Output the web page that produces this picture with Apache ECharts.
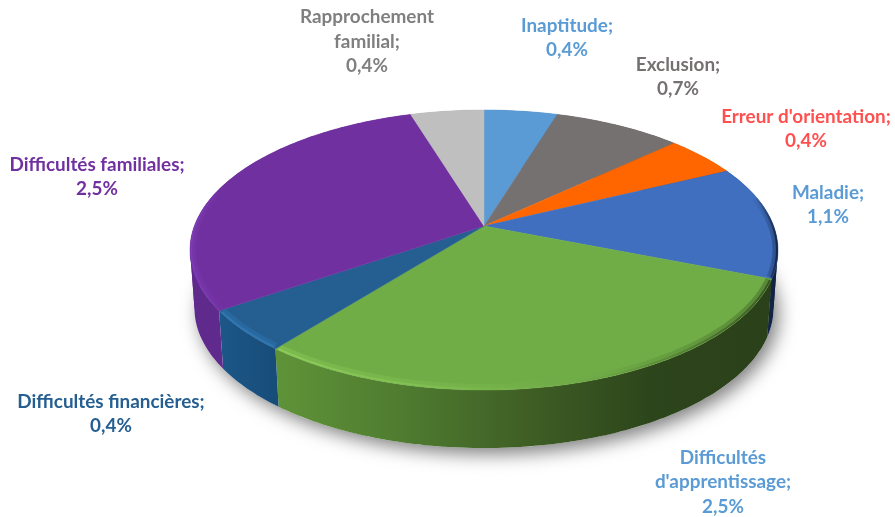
<!DOCTYPE html>
<html><head><meta charset="utf-8">
<style>html,body{margin:0;padding:0;background:#fff}#c{width:895px;height:517px}</style>
<script src="https://cdn.jsdelivr.net/npm/echarts@6/dist/echarts.min.js"></script>
</head><body><div id="c"></div>
<script>
const categories = ['Inaptitude','Exclusion',"Erreur d'orientation",'Maladie',"Difficultés d'apprentissage",'Difficultés financières','Difficultés familiales','Rapprochement familial'];
const values = [0.4,0.7,0.4,1.1,2.5,0.4,2.5,0.4];

const topColors = ['#5b9bd5','#767171','#ff6600','#3f6fbe','#70ad47','#255e91','#7030a0','#bfbfbf'];
const sideStops = [
  ['#3f74a6','#3f74a6'],['#555','#444'],['#b34700','#a04000'],['#27467f','#101f3d'],
  ['#5f9338','#4f7c30','#3f5f25','#2d451b','#2a401a'],['#1c5788','#174c78'],['#5f2a8c','#662f97'],['#999','#999']
];
const rimStops = [null,null,null,['#3a62aa','#13233f'],['#8fce5a','#7fbe50','#6ca544','#33501f'],['#2f78b5','#2f78b5'],['#7e3db4','#7533a8'],null];
const rimRange = [null,null,null,[78,111],[112,218],[219,235],[236,285],null];
const labels = [
  {x:567,y:38,c:'#5b9bd5',wrap:false},{x:678,y:77,c:'#767171',wrap:false},
  {x:806,y:129,c:'#ff5050',wrap:false},{x:828,y:205,c:'#5b9bd5',wrap:false},
  {x:723,y:482,c:'#5b9bd5',wrap:true},{x:111,y:414,c:'#255e91',wrap:false},
  {x:97,y:177,c:'#7030a0',wrap:false},{x:367,y:41.5,c:'#7f7f7f',wrap:true}
];
const geo = {cx:484,cy:226,R:289.6,S:135.9,k:0.1716,depth:58,xBottom:0.985};
const total = values.reduce((a,b)=>a+b,0);
let run = 0;
const rows = values.map((v,i)=>{const r=[i,v,run];run+=v;return r;});
const deg = v => v/total*360;
// Angles at which the projected rim reaches its horizontal extremes.
const extremeOffset = Math.acos(-geo.k)*180/Math.PI;
const extremes = [extremeOffset, 360-extremeOffset];

function proj(a,bottom,inset){
  const t=a*Math.PI/180, x=Math.sin(t), y=-Math.cos(t), w=1-geo.k*y;
  const s=bottom?geo.xBottom:1, ins=inset||0;
  return [geo.cx+(geo.R-ins)*s*x/w, geo.cy+(geo.S-ins)*y/w+(bottom?geo.depth:0)];
}
function arc(a0,a1,bottom,inset){
  const pts=[], n=Math.max(2,Math.ceil(Math.abs(a1-a0)));
  for(let i=0;i<=n;i++) pts.push(proj(a0+(a1-a0)*i/n,bottom,inset));
  return pts;
}
function grad(stops,x0,x1){
  return {type:'linear',x:x0,y:0,x2:x1,y2:0,global:true,
    colorStops:stops.map((c,i)=>({offset:i/(stops.length-1),color:c}))};
}
function extentX(pts){const xs=pts.map(p=>p[0]);return [Math.min(...xs),Math.max(...xs)];}

const option = {
  animation:false,
  backgroundColor:'#fff',
  series:[
    {type:'custom',coordinateSystem:'none',silent:true,z:1,data:[[total]],
     renderItem(){
       return {type:'polygon',shape:{points:arc(0,360,true)},
         style:{fill:'#fff',shadowColor:'rgba(0,0,0,0.5)',shadowBlur:18,shadowOffsetX:5,shadowOffsetY:6}};
     }},
    {type:'custom',coordinateSystem:'none',silent:true,z:2,data:rows,
     renderItem(params,api){
       const i=api.value(0), a0=deg(api.value(2)), a1=a0+deg(api.value(1));
       const up=arc(a0,a1,false), low=arc(a0,a1,true);
       const e=extentX(up.concat(low));
       const g=i===4?grad(sideStops[i],276,775):grad(sideStops[i],e[0],e[1]);
       const kids=[{type:'polygon',shape:{points:up.concat(low.slice().reverse())},style:{fill:g}}];
       extremes.filter(t=>t>a0&&t<a1).forEach(t=>{
         [[Math.max(a0,t-12),t],[t,Math.min(a1,t+12)]].forEach(r=>{
           const p=[proj(r[0],false),proj(r[1],false),proj(r[1],true),proj(r[0],true)];
           kids.push({type:'polygon',shape:{points:p},style:{fill:g}});
         });
       });
       return {type:'group',children:kids};
     }},
    {type:'custom',coordinateSystem:'none',silent:true,z:3,data:rows,
     renderItem(params,api){
       const i=api.value(0), a0=deg(api.value(2)), a1=a0+deg(api.value(1));
       const kids=[{type:'polygon',shape:{points:[[geo.cx,geo.cy]].concat(arc(a0,a1,false))},
         style:{fill:topColors[i],stroke:topColors[i],lineWidth:0.5}}];
       if(rimStops[i]){
         const rng=rimRange[i], stops=rimStops[i];
         const pts=arc(rng[0],rng[1],false,1), e=extentX(pts);
         const g=i===4?grad(stops,276,772):grad(stops,e[0],e[1]);
         kids.push({type:'polyline',shape:{points:arc(rng[0],rng[1],false,3)},
           style:{fill:null,stroke:g,lineWidth:5,opacity:0.4}});
         kids.push({type:'polyline',shape:{points:pts},
           style:{fill:null,stroke:g,lineWidth:2,opacity:0.9}});
       }
       const L=labels[i], name=L.wrap?categories[i].replace(' ','\n'):categories[i];
       kids.push({type:'text',style:{x:L.x,y:L.y,text:name+';\n'+String(values[i]).replace('.',',')+'%',
         fill:L.c,font:'bold 18.9px Lato',lineHeight:24.5,align:'center',verticalAlign:'middle'}});
       return {type:'group',children:kids};
     }}
  ]
};
echarts.init(document.getElementById('c'),null,{renderer:'canvas'}).setOption(option);
</script></body></html>
